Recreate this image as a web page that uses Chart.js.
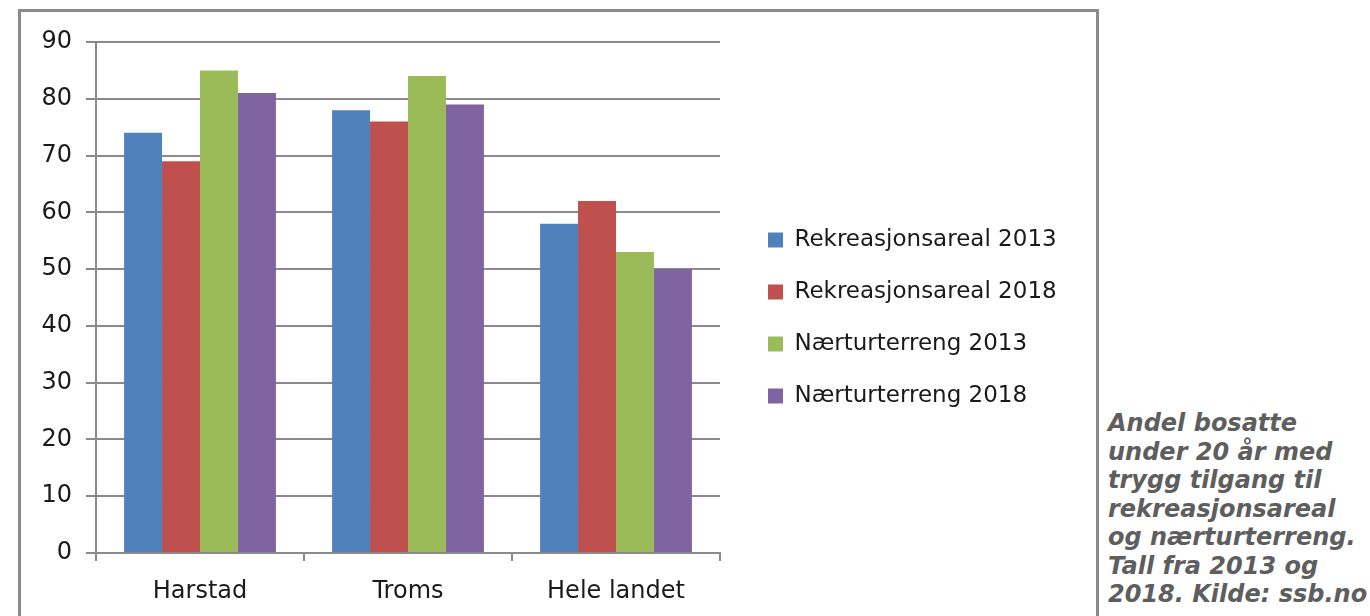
<!DOCTYPE html>
<html>
<head>
<meta charset="utf-8">
<script src="https://cdn.jsdelivr.net/npm/chart.js@4/dist/chart.umd.min.js"></script>
<style>
  body { margin: 0; background: #fff; width: 1370px; height: 616px; overflow: hidden; position: relative; }
  #frame { position: absolute; left: 18px; top: 9px; width: 1081px; height: 700px; border: 3px solid #8a8a8a; box-sizing: border-box; }
  #wrap { position: absolute; left: 0; top: 0; width: 1100px; height: 616px; }
  #note { position: absolute; left: 1108px; top: 409px; font: italic bold 24px "DejaVu Sans"; line-height: 28.5px; color: #5e5e5e; white-space: nowrap; }
</style>
</head>
<body>
<div id="frame"></div>
<div id="wrap"><canvas id="chart" width="1100" height="616"></canvas></div>
<div id="note">Andel bosatte<br>under 20 år med<br>trygg tilgang til<br>rekreasjonsareal<br>og nærturterreng.<br>Tall fra 2013 og<br>2018. Kilde: ssb.no</div>
<script>
const categories = ['Harstad', 'Troms', 'Hele landet'];
const seriesNames = ['Rekreasjonsareal 2013', 'Rekreasjonsareal 2018', 'Nærturterreng 2013', 'Nærturterreng 2018'];
const rekreasjon2013 = [74, 78, 58];
const rekreasjon2018 = [69, 76, 62];
const naertur2013 = [85, 84, 53];
const naertur2018 = [81, 79, 50];
const seriesColors = ['#4f81bd', '#c0504d', '#9bbb59', '#8064a2'];
const yTicks = [0, 10, 20, 30, 40, 50, 60, 70, 80, 90];

const FONT = 'DejaVu Sans';
const GRID = '#8a8a8a';
const PLOT_RIGHT = 720;

// put the legend where the reference has it
const legendSpot = {
  id: 'legendSpot',
  afterLayout(chart) {
    const lg = chart.legend;
    const pad = lg.options.labels.padding;
    const w = lg.width, h = lg.height;
    lg.left = 768 - pad; lg.right = lg.left + w;
    lg.top = 199.5; lg.bottom = lg.top + h;
  }
};

const values = [rekreasjon2013, rekreasjon2018, naertur2013, naertur2018];

const chart = new Chart(document.getElementById('chart'), {
  type: 'bar',
  data: {
    labels: categories,
    datasets: seriesNames.map((name, i) => ({
      label: name,
      data: values[i],
      backgroundColor: seriesColors[i],
      borderWidth: 0,
      categoryPercentage: 0.73,
      barPercentage: 1
    }))
  },
  options: {
    responsive: false,
    animation: false,
    layout: { padding: { top: 42, left: 0, right: 40, bottom: 0 } },
    plugins: {
      title: { display: false },
      tooltip: { enabled: false },
      legend: {
        position: 'right',
        align: 'start',
        maxWidth: 420,
        labels: {
          boxWidth: 15,
          boxHeight: 15,
          padding: 29,
          color: '#1a1a1a',
          font: { family: FONT, size: 23 }
        }
      }
    },
    scales: {
      x: {
        offset: true,
        grid: { offset: true, drawOnChartArea: false, drawTicks: true, tickLength: 8, color: GRID, lineWidth: 2 },
        border: { display: true, color: GRID, width: 2 },
        ticks: { color: '#1a1a1a', padding: 16, font: { family: FONT, size: 24 } },
        afterFit(s) { s.height = 616 - 553; }
      },
      y: {
        min: 0,
        max: 90,
        afterBuildTicks(s) { s.ticks = yTicks.map(v => ({ value: v })); },
        grid: { color: GRID, lineWidth: 2, tickLength: 10 },
        border: { display: true, color: GRID, width: 2 },
        ticks: { color: '#1a1a1a', padding: 14, font: { family: FONT, size: 24 } },
        afterFit(s) { s.width = 96; }
      }
    }
  },
  plugins: [legendSpot]
});

// legend width is only known after the first layout
chart.options.layout.padding.right = Math.max(0, 1100 - PLOT_RIGHT - chart.legend.width);
chart.update();
</script>
</body>
</html>
